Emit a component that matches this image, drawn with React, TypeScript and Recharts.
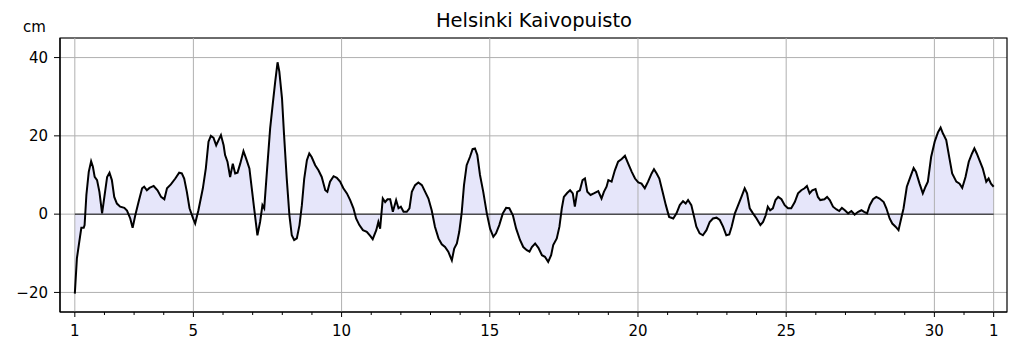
import React from 'react';
import { ComposedChart, Area, Line, XAxis, YAxis, CartesianGrid, ReferenceLine, ReferenceArea } from 'recharts';

const title = 'Helsinki Kaivopuisto';
const unitLabel = 'cm';

// x position in days of the month (1 = first day, 32 = first day of next month)
const dayPos: number[] = [
  1.00, 1.07, 1.15, 1.22, 1.30, 1.33, 1.39, 1.47, 1.55, 1.61, 1.67, 1.75, 1.83, 1.92, 1.99,
  2.09, 2.17, 2.25, 2.33, 2.42, 2.53, 2.67, 2.76, 2.87, 2.95, 3.04, 3.15, 3.27, 3.34, 3.43,
  3.52, 3.66, 3.79, 3.91, 4.02, 4.11, 4.24, 4.39, 4.52, 4.61, 4.69, 4.78, 4.87, 4.99, 5.06,
  5.17, 5.32, 5.42, 5.51, 5.59, 5.68, 5.77, 5.85, 5.93, 6.02, 6.07, 6.15, 6.24, 6.33, 6.41,
  6.49, 6.58, 6.69, 6.78, 6.89, 6.97, 7.05, 7.16, 7.25, 7.33, 7.39, 7.48, 7.59, 7.68, 7.76,
  7.84, 7.90, 7.99, 8.06, 8.15, 8.24, 8.32, 8.40, 8.49, 8.58, 8.66, 8.74, 8.83, 8.91, 8.99,
  9.11, 9.22, 9.33, 9.45, 9.52, 9.61, 9.73, 9.84, 9.95, 10.06, 10.18, 10.29, 10.40, 10.49, 10.60,
  10.72, 10.85, 10.96, 11.05, 11.17, 11.24, 11.30, 11.39, 11.47, 11.55, 11.64, 11.73, 11.84, 11.92, 12.00,
  12.09, 12.20, 12.29, 12.37, 12.48, 12.59, 12.71, 12.82, 12.93, 13.04, 13.15, 13.27, 13.38, 13.49, 13.60,
  13.72, 13.80, 13.89, 13.97, 14.05, 14.13, 14.22, 14.33, 14.42, 14.50, 14.58, 14.67, 14.78, 14.90, 15.01,
  15.12, 15.21, 15.32, 15.44, 15.55, 15.66, 15.78, 15.89, 16.02, 16.13, 16.25, 16.34, 16.42, 16.53, 16.64,
  16.76, 16.86, 16.97, 17.07, 17.14, 17.26, 17.35, 17.43, 17.50, 17.61, 17.71, 17.80, 17.87, 17.95, 18.04,
  18.13, 18.21, 18.29, 18.40, 18.51, 18.66, 18.77, 18.85, 18.94, 19.00, 19.11, 19.22, 19.33, 19.45, 19.56,
  19.67, 19.79, 19.90, 20.01, 20.12, 20.23, 20.34, 20.46, 20.54, 20.63, 20.72, 20.83, 20.94, 21.05, 21.19,
  21.30, 21.41, 21.52, 21.61, 21.69, 21.80, 21.88, 21.97, 22.08, 22.19, 22.31, 22.42, 22.53, 22.65, 22.76,
  22.87, 22.98, 23.08, 23.16, 23.27, 23.38, 23.49, 23.60, 23.68, 23.77, 23.88, 24.00, 24.13, 24.22, 24.31,
  24.38, 24.46, 24.55, 24.64, 24.73, 24.84, 24.95, 25.06, 25.17, 25.29, 25.40, 25.51, 25.62, 25.70, 25.79,
  25.88, 25.99, 26.07, 26.15, 26.29, 26.38, 26.47, 26.58, 26.70, 26.79, 26.88, 26.98, 27.09, 27.20, 27.31,
  27.43, 27.54, 27.63, 27.73, 27.82, 27.93, 28.04, 28.15, 28.29, 28.38, 28.49, 28.58, 28.69, 28.79, 28.88,
  28.96, 29.07, 29.19, 29.30, 29.38, 29.50, 29.61, 29.70, 29.78, 29.89, 30.01, 30.12, 30.21, 30.29, 30.40,
  30.51, 30.60, 30.74, 30.85, 30.94, 31.05, 31.16, 31.27, 31.35, 31.43, 31.52, 31.63, 31.75, 31.83, 31.91,
  32.00,
];

// sea level, cm
const waterLevel: number[] = [
  -20.3, -11.3, -7.1, -3.5, -3.5, -2.8, 4.9, 10.8, 13.5, 12.1, 9.5, 8.7, 5.7, 0.2, 4.0,
  9.5, 10.6, 8.7, 4.4, 2.7, 1.9, 1.6, 0.9, -1.1, -3.5, -0.3, 3.1, 6.6, 7.0, 6.1,
  6.7, 7.2, 6.1, 4.4, 3.8, 6.6, 7.6, 9.1, 10.6, 10.4, 9.1, 5.7, 1.5, -1.1, -2.4,
  1.0, 6.6, 11.7, 18.5, 20.0, 19.5, 17.6, 18.9, 20.2, 17.6, 15.1, 13.4, 9.5, 12.9, 10.4,
  10.6, 12.9, 16.1, 14.2, 11.7, 6.6, 1.5, -5.4, -2.0, 2.3, 1.5, 10.8, 21.9, 28.3, 33.8,
  38.8, 36.4, 29.6, 20.2, 9.1, -0.3, -5.4, -6.6, -6.2, -2.8, 2.3, 9.1, 13.8, 15.5, 14.6,
  12.5, 11.2, 9.5, 6.1, 5.7, 8.3, 9.7, 9.3, 8.3, 6.6, 5.3, 3.6, 1.5, -1.1, -2.8,
  -4.1, -4.5, -5.5, -6.4, -4.1, -2.0, -3.7, 4.0, 3.1, 3.8, 3.8, 0.6, 3.6, 1.5, 1.9,
  0.6, 0.6, 1.5, 5.7, 7.4, 8.1, 7.4, 5.7, 4.0, 1.0, -3.2, -6.2, -7.7, -8.4, -9.6,
  -11.8, -8.8, -7.5, -4.5, 0.2, 7.4, 12.5, 14.6, 16.6, 16.8, 15.1, 10.0, 5.7, 0.2, -3.7,
  -5.8, -4.9, -2.8, 0.2, 1.6, 1.5, -0.3, -3.7, -6.6, -8.4, -9.2, -9.6, -8.4, -7.5, -8.6,
  -10.5, -10.9, -12.2, -10.5, -7.9, -6.2, -3.2, 1.5, 4.4, 5.4, 6.1, 5.3, 1.9, 5.7, 6.1,
  8.7, 9.1, 5.7, 4.9, 5.3, 5.9, 4.0, 5.7, 7.0, 8.7, 8.3, 11.2, 13.4, 14.1, 14.9,
  12.9, 10.8, 9.1, 8.1, 7.8, 6.6, 8.3, 10.4, 11.5, 10.4, 9.1, 5.7, 2.3, -0.7, -1.1,
  0.2, 2.3, 3.3, 2.7, 3.6, 2.3, -0.3, -3.2, -4.9, -5.4, -4.1, -2.0, -1.1, -0.9, -1.5,
  -3.2, -5.4, -5.2, -3.2, 0.2, 2.3, 4.4, 6.6, 5.3, 1.5, 0.2, -1.1, -2.8, -2.0, -0.3,
  1.9, 1.0, 1.5, 3.6, 4.4, 3.8, 2.3, 1.5, 1.5, 3.1, 5.3, 6.1, 6.6, 7.2, 5.3,
  6.1, 6.4, 4.4, 3.6, 3.8, 4.4, 3.6, 1.9, 1.2, 0.8, 1.6, 1.0, 0.2, 0.8, -0.1,
  0.6, 1.0, 0.6, 0.2, 2.3, 3.8, 4.4, 4.0, 3.1, 1.5, -1.1, -2.4, -3.2, -4.1, -1.1,
  1.5, 7.0, 9.5, 11.8, 10.8, 7.8, 5.3, 7.0, 8.3, 14.6, 18.5, 20.9, 22.1, 20.6, 18.9,
  14.2, 10.4, 8.3, 7.8, 6.7, 9.5, 13.4, 15.5, 16.8, 15.5, 13.8, 11.7, 8.3, 9.1, 7.8,
  7.0,
];

const majorDays: number[] = [1, 5, 10, 15, 20, 25, 30, 32];
const majorLabels: string[] = ['1', '5', '10', '15', '20', '25', '30', '1'];
const allDays: number[] = Array.from({ length: 32 }, (_, i) => i + 1);
const yTicks: number[] = [-20, 0, 20, 40];

const data = dayPos.map((d, i) => ({ day: d, level: waterLevel[i] }));

const FONT = "'DejaVu Sans', sans-serif";

const XTick = (props: any) => {
  const { x, y, payload } = props;
  const idx = majorDays.indexOf(payload.value);
  const major = idx >= 0;
  return (
    <g>
      <line x1={x} x2={x} y1={y} y2={y + (major ? 5 : 3)} stroke="#000" strokeWidth={1} />
      {major && (
        <text x={x} y={y + 24} textAnchor="middle" fontSize={15} fontFamily={FONT} fill="#000">
          {majorLabels[idx]}
        </text>
      )}
    </g>
  );
};

export default function App() {
  return (
    <div style={{ position: 'absolute', left: 0, top: 0, width: 1019, height: 352, background: '#fff' }}>
      <ComposedChart
        width={1019}
        height={352}
        data={data}
        margin={{ top: 38, right: 12, bottom: 10, left: 10 }}
      >
        <CartesianGrid vertical={false} stroke="#b0b0b0" strokeWidth={1} />
        {majorDays.map((d) => (
          <ReferenceLine key={'g' + d} x={d} stroke="#b0b0b0" strokeWidth={1} />
        ))}
        <XAxis
          dataKey="day"
          type="number"
          domain={[0.5, 32.45]}
          allowDataOverflow
          ticks={allDays}
          interval={0}
          tick={<XTick />}
          tickLine={false}
          tickSize={0}
          tickMargin={0}
          axisLine={{ stroke: '#000', strokeWidth: 1.2 }}
          height={30}
        />
        <YAxis
          type="number"
          domain={[-25, 45]}
          allowDataOverflow
          ticks={yTicks}
          interval={0}
          width={50}
          tickSize={6}
          tickMargin={6}
          tickLine={{ stroke: '#000' }}
          axisLine={{ stroke: '#000', strokeWidth: 1.2 }}
          tick={{ fontSize: 15, fill: '#000', fontFamily: FONT }}
          tickFormatter={(v: number) => String(v).replace('-', '\u2212')}
        />
        <Area
          type="linear"
          dataKey="level"
          baseValue={0}
          fill="#e6e6fa"
          fillOpacity={1}
          stroke="none"
          isAnimationActive={false}
        />
        <ReferenceLine
          segment={[{ x: 1, y: 0 }, { x: 32, y: 0 }]}
          stroke="#000"
          strokeWidth={1}
        />
        <Line
          type="linear"
          dataKey="level"
          stroke="#000"
          strokeWidth={2}
          dot={false}
          isAnimationActive={false}
        />
        <ReferenceArea
          x1={0.5}
          x2={32.45}
          y1={-25}
          y2={45}
          fill="none"
          stroke="#000"
          strokeWidth={1.2}
          ifOverflow="visible"
        />
      </ComposedChart>
      <svg
        width={1019}
        height={352}
        style={{ position: 'absolute', left: 0, top: 0, pointerEvents: 'none' }}
      >
        <text x={534} y={27} textAnchor="middle" fontSize={19.5} fontFamily={FONT} fill="#000">
          {title}
        </text>
        <text x={23} y={32} textAnchor="start" fontSize={15} fontFamily={FONT} fill="#000">
          {unitLabel}
        </text>
      </svg>
    </div>
  );
}
